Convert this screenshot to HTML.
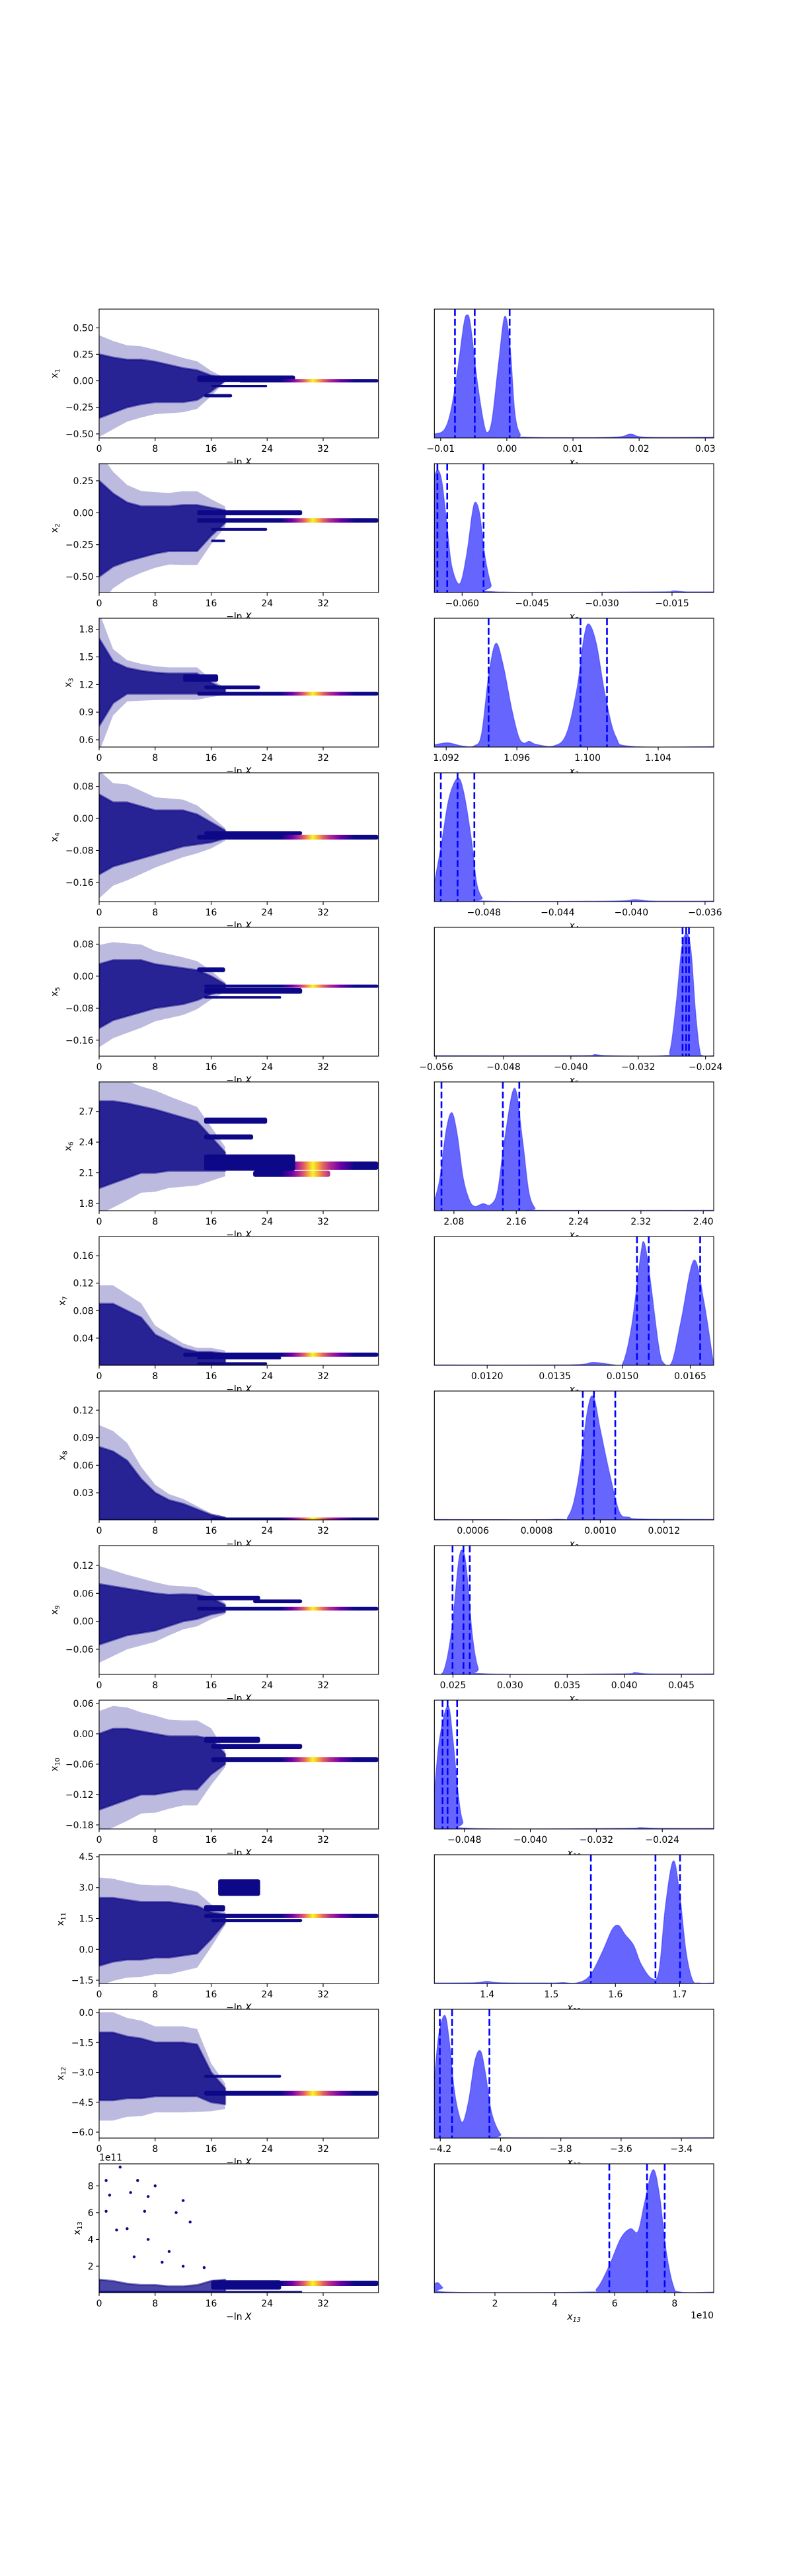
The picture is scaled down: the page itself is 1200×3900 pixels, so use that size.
<!DOCTYPE html>
<html><head><meta charset="utf-8"><title>Run plot</title>
<style>
html,body{margin:0;padding:0;background:#fff;}
svg{display:block;}
text{font-family:"DejaVu Sans","Liberation Sans",sans-serif;font-size:13.9px;fill:#000;}
</style></head>
<body>
<svg id="fig" width="1200" height="3900" viewBox="0 0 1200 3900" xmlns="http://www.w3.org/2000/svg">
<rect x="0" y="0" width="1200" height="3900" fill="#fff"/>
</svg>
<script>
// ---------- data ----------
const nRows = 13;
const xMaxLeft = 39.9;
const leftXTicks = [0, 8, 16, 24, 32];
const yMin = [-0.538,-0.624,0.521,-0.208,-0.200,1.729,0.0005,0.0005,-0.1139,-0.188,-1.66,-6.298,0.028];
const yMax = [0.676,0.384,1.92,0.114,0.122,2.989,0.188,0.1409,0.1625,0.0665,4.596,0.166,9.64];
const yTicks = [
 [-0.5,-0.25,0,0.25,0.5],[-0.5,-0.25,0,0.25],[0.6,0.9,1.2,1.5,1.8],[-0.16,-0.08,0,0.08],
 [-0.16,-0.08,0,0.08],[1.8,2.1,2.4,2.7],[0.04,0.08,0.12,0.16],[0.03,0.06,0.09,0.12],
 [-0.06,0,0.06,0.12],[-0.18,-0.12,-0.06,0,0.06],[-1.5,0,1.5,3,4.5],[-6,-4.5,-3,-1.5,0],[2,4,6,8]];
const yDec = [2,2,1,2,2,1,2,2,2,2,1,1,0];
const rMin = [-0.01095,-0.06595,1.09133,-0.05069,-0.05622,2.0549,0.01083,0.000479,0.02337,-0.05164,1.3177,-4.2196,-0.024];
const rMax = [0.03127,-0.00607,1.10714,-0.03553,-0.02303,2.4134,0.01702,0.001356,0.04783,-0.01777,1.7532,-3.2928,9.307];
const rTicks = [
 [-0.01,0,0.01,0.02,0.03],[-0.06,-0.045,-0.03,-0.015],[1.092,1.096,1.1,1.104],[-0.048,-0.044,-0.04,-0.036],
 [-0.056,-0.048,-0.04,-0.032,-0.024],[2.08,2.16,2.24,2.32,2.4],[0.012,0.0135,0.015,0.0165],[0.0006,0.0008,0.001,0.0012],
 [0.025,0.03,0.035,0.04,0.045],[-0.048,-0.04,-0.032,-0.024],[1.4,1.5,1.6,1.7],[-4.2,-4.0,-3.8,-3.6,-3.4],[2,4,6,8]];
const rDec = [2,3,3,3,3,2,4,4,3,3,1,1,0];
const kdeX = [
 [-0.01095,-0.0095,-0.0085,-0.0075,-0.0065,-0.006,-0.0055,-0.0045,-0.0035,-0.0029,-0.0022,-0.0012,-0.0003,0.0005,0.0012,0.002,0.003,0.016,0.0187,0.021,0.03127],
 [-0.06595,-0.0652,-0.0643,-0.0632,-0.0622,-0.0605,-0.059,-0.0578,-0.0571,-0.0562,-0.0552,-0.0538,-0.0527,-0.018,-0.0149,-0.012,-0.00607],
 [1.09133,1.0921,1.0929,1.0936,1.094,1.0944,1.0948,1.0952,1.0957,1.0961,1.0964,1.0967,1.0971,1.0981,1.0988,1.0994,1.0998,1.10008,1.1005,1.101,1.1016,1.1025,1.10714],
 [-0.05069,-0.0503,-0.0499,-0.04943,-0.0491,-0.0487,-0.0484,-0.0481,-0.0478,-0.041,-0.0398,-0.0388,-0.03553],
 [-0.05622,-0.039,-0.0372,-0.0355,-0.029,-0.0282,-0.0275,-0.0268,-0.02619,-0.0257,-0.0252,-0.0247,-0.0243,-0.02303],
 [2.0549,2.062,2.07,2.0772,2.084,2.092,2.1,2.1064,2.113,2.118,2.127,2.136,2.145,2.1578,2.168,2.176,2.184,2.191,2.4134],
 [0.01083,0.0138,0.01435,0.0148,0.015,0.0152,0.0154,0.01548,0.0156,0.0158,0.01591,0.0161,0.0163,0.01658,0.0168,0.017,0.01702],
 [0.000479,0.00085,0.0009,0.00093,0.00096,0.000979,0.001,0.00103,0.00106,0.00109,0.00113,0.001356],
 [0.02337,0.0242,0.0249,0.0255,0.02588,0.0262,0.0267,0.0272,0.0278,0.0395,0.0409,0.0422,0.04783],
 [-0.05164,-0.051,-0.05,-0.0494,-0.0488,-0.0482,-0.0472,-0.029,-0.0267,-0.0245,-0.01777],
 [1.3177,1.38,1.4,1.42,1.5,1.518,1.54,1.56,1.58,1.595,1.605,1.615,1.6284,1.64,1.6567,1.668,1.678,1.6901,1.7,1.71,1.72,1.73,1.7532],
 [-4.2196,-4.205,-4.1849,-4.17,-4.155,-4.14,-4.1245,-4.105,-4.085,-4.0664,-4.05,-4.03,-4.0,-3.97,-3.2928],
 [-0.024,0.1,0.25,0.45,5.0,5.4,5.8,6.2,6.52,6.78,7.0,7.28,7.5,7.7,7.95,8.2,9.307]];
const kdeY = [
 [0.03,0.06,0.2,0.5,0.88,0.954,0.88,0.45,0.12,0.043,0.15,0.6,0.944,0.7,0.2,0.03,0.005,0.005,0.03,0.005,0.005],
 [0.9,0.952,0.85,0.5,0.2,0.068,0.3,0.62,0.70,0.6,0.3,0.06,0.005,0.005,0.012,0.005,0.005],
 [0.017,0.032,0.008,0.01,0.1,0.55,0.803,0.65,0.3,0.08,0.03,0.044,0.02,0.009,0.1,0.45,0.85,0.954,0.8,0.4,0.08,0.005,0.003],
 [0.145,0.45,0.8,0.957,0.85,0.5,0.15,0.03,0.004,0.004,0.015,0.004,0.004],
 [0.004,0.004,0.012,0.004,0.004,0.05,0.4,0.85,0.949,0.8,0.35,0.05,0.004,0.004],
 [0.077,0.25,0.62,0.761,0.6,0.25,0.08,0.034,0.045,0.055,0.046,0.15,0.55,0.952,0.55,0.15,0.02,0.003,0.003],
 [0.003,0.003,0.022,0.004,0.01,0.3,0.85,0.951,0.7,0.15,0.017,0.03,0.35,0.814,0.5,0.05,0.02],
 [0.003,0.003,0.03,0.3,0.85,0.952,0.7,0.35,0.06,0.02,0.006,0.003],
 [0.005,0.03,0.35,0.88,0.957,0.8,0.3,0.05,0.005,0.004,0.014,0.004,0.004],
 [0.29,0.7,0.957,0.7,0.3,0.06,0.004,0.004,0.01,0.004,0.004],
 [0.004,0.006,0.016,0.006,0.004,0.007,0.005,0.06,0.25,0.42,0.45,0.38,0.296,0.15,0.039,0.1,0.6,0.951,0.7,0.25,0.03,0.004,0.004],
 [0.453,0.8,0.952,0.75,0.4,0.2,0.125,0.3,0.6,0.675,0.5,0.2,0.03,0.003,0.003],
 [0.07,0.077,0.04,0.004,0.004,0.03,0.2,0.42,0.496,0.475,0.7,0.954,0.75,0.35,0.06,0.004,0.004]];
const vlines = [
 [-0.00784,-0.00485,0.00043],[-0.0653,-0.0632,-0.0554],[1.0944,1.0996,1.1011],[-0.05034,-0.04943,-0.04852],
 [-0.02673,-0.0263,-0.02597],[2.064,2.1428,2.1639],[0.01532,0.01558,0.01672],[0.000945,0.00098,0.001047],
 [0.02496,0.02592,0.02647],[-0.05065,-0.05004,-0.04888],[1.5617,1.6624,1.7007],[-4.2015,-4.1608,-4.037],[5.82,7.08,7.67]];
const cloudX = [0,2,4,6,8,10,12,14,16,18];
const cloudUp = [
 [0.25,0.22,0.2,0.2,0.18,0.15,0.12,0.1,0.05,0.02],
 [0.25,0.15,0.08,0.05,0.05,0.05,0.06,0.06,0.04,0.02],
 [1.7,1.45,1.38,1.35,1.33,1.32,1.32,1.32,1.22,1.15],
 [0.06,0.04,0.04,0.03,0.02,0.02,0.02,0.01,-0.01,-0.03],
 [0.03,0.04,0.04,0.04,0.03,0.025,0.02,0.015,0.0,-0.02],
 [2.8,2.8,2.78,2.75,2.72,2.68,2.64,2.6,2.45,2.3],
 [0.09,0.09,0.08,0.07,0.045,0.035,0.025,0.02,0.02,0.017],
 [0.08,0.075,0.065,0.045,0.03,0.022,0.018,0.012,0.006,0.003],
 [0.08,0.075,0.07,0.065,0.06,0.057,0.058,0.057,0.05,0.035],
 [0.0,0.01,0.01,0.005,0.0,-0.005,-0.005,-0.005,-0.01,-0.04],
 [2.5,2.5,2.4,2.3,2.3,2.3,2.2,2.1,1.8,1.7],
 [-1.0,-1.0,-1.2,-1.3,-1.5,-1.5,-1.5,-1.6,-3.0,-3.8],
 [1.0,0.9,0.7,0.6,0.6,0.5,0.5,0.6,0.9,1.0]];
const cloudLo = [
 [-0.35,-0.3,-0.25,-0.22,-0.2,-0.2,-0.2,-0.18,-0.1,0.0],
 [-0.5,-0.42,-0.38,-0.35,-0.32,-0.3,-0.3,-0.3,-0.18,-0.08],
 [0.75,1.0,1.1,1.1,1.1,1.1,1.1,1.1,1.1,1.1],
 [-0.14,-0.12,-0.11,-0.1,-0.09,-0.08,-0.07,-0.065,-0.06,-0.05],
 [-0.13,-0.11,-0.1,-0.09,-0.08,-0.075,-0.07,-0.06,-0.045,-0.035],
 [1.95,2.0,2.05,2.1,2.1,2.12,2.12,2.12,2.12,2.12],
 [0.0005,0.0005,0.0005,0.0005,0.0005,0.0005,0.0005,0.0005,0.0005,0.0005],
 [0.0005,0.0005,0.0005,0.0005,0.0005,0.0005,0.0005,0.0005,0.0005,0.0005],
 [-0.05,-0.04,-0.03,-0.025,-0.02,-0.01,0.0,0.005,0.015,0.02],
 [-0.15,-0.14,-0.13,-0.12,-0.12,-0.115,-0.11,-0.11,-0.08,-0.06],
 [-0.8,-0.6,-0.5,-0.5,-0.4,-0.4,-0.3,-0.2,0.5,1.3],
 [-4.4,-4.4,-4.3,-4.3,-4.2,-4.2,-4.2,-4.2,-4.5,-4.6],
 [0.03,0.03,0.03,0.03,0.03,0.03,0.03,0.03,0.03,0.03]];
const streakRow = [0,0,0,0, 1,1,1,1, 2,2,2, 3,3, 4,4,4,4, 5,5,5,5,5, 6,6,6, 7, 8,8,8, 9,9,9, 10,10,10,10, 11,11, 12,12,12];
const streakX0  = [14,20,16,15, 14,14,16,16, 15,14,12, 15,14, 14,15,15,15, 15,15,15,22,15, 12,14,14, 16, 14,22,14, 15,16,16, 15,17,15,16, 15,15, 0,16,16];
const streakX1  = [28,39.9,24,19, 29,39.9,24,18, 23,39.9,17, 29,39.9, 18,39.9,29,26, 24,22,39.9,33,28, 39.9,26,24, 39.9, 23,29,39.9, 23,29,39.9, 18,23,39.9,29, 26,39.9, 29,26,39.9];
const streakY   = [0.02,0.0,-0.05,-0.14, 0.0,-0.06,-0.13,-0.22, 1.17,1.1,1.27, -0.037,-0.047, 0.016,-0.025,-0.037,-0.053, 2.61,2.45,2.17,2.09,2.2, 0.016,0.011,0.003, 0.0015, 0.05,0.043,0.027, -0.012,-0.025,-0.051, 2.0,3.0,1.62,1.4, -3.2,-4.05, 0.08,0.6,0.72];
const streakH   = [0.03,0.015,0.01,0.015, 0.02,0.018,0.012,0.01, 0.02,0.02,0.04, 0.005,0.006, 0.006,0.004,0.007,0.003, 0.03,0.025,0.04,0.03,0.08, 0.003,0.002,0.002, 0.0015, 0.005,0.004,0.004, 0.006,0.005,0.005, 0.15,0.4,0.1,0.08, 0.07,0.12, 0.05,0.35,0.2];
const streakHot = [0,1,0,0, 0,1,0,0, 0,1,0, 0,1, 0,1,0,0, 0,0,1,1,0, 1,0,0, 1, 0,0,1, 0,0,1, 0,0,1,0, 0,1, 0,0,1];
const outRow = [12,12,12,12,12,12,12,12,12,12,12,12,12,12,12,12,12,12,12,12];
const outX = [1,3,5.5,8,1.5,7,4.5,1,6.5,12,11,13,2.5,7,4,10,5,9,12,15];
const outY = [8.4,9.4,8.4,8.0,7.3,7.2,7.5,6.1,6.1,6.9,6.0,5.3,4.7,4.0,4.8,3.1,2.7,2.3,2.0,1.9];
const hotStopX = [26,27.5,28.5,29.3,29.9,30.5,31.3,32,33,34.5,36.5];
const hotStopC = ['#0d0887','#6a00a8','#b12a90','#e16462','#fca636','#f0f921','#fca636','#e16462','#b12a90','#6a00a8','#0d0887'];

// ---------- layout ----------
const NS = 'http://www.w3.org/2000/svg';
const svg = document.getElementById('fig');
const L0 = 150, LW = 422.7, R0 = 657.3, RW = 422.7, H = 195, TOP0 = 468, PITCH = 234;
const NAVY = '#0d0887';
function el(tag, attrs, parent) {
  const e = document.createElementNS(NS, tag);
  for (const k in attrs) e.setAttribute(k, attrs[k]);
  (parent || svg).appendChild(e);
  return e;
}
function fmt(v, d) { return v.toFixed(d).replace('-', '\u2212'); }
function topOf(i) { return TOP0 + PITCH * i; }
function lx(v) { return L0 + v / xMaxLeft * LW; }
function ly(i, v) { return topOf(i) + (yMax[i] - v) / (yMax[i] - yMin[i]) * H; }
function rx(i, v) { return R0 + (v - rMin[i]) / (rMax[i] - rMin[i]) * RW; }
function ry(i, v) { return topOf(i) + H - v * H; }
function crPath(pts) {
  let d = 'M' + pts[0][0].toFixed(2) + ',' + pts[0][1].toFixed(2);
  for (let k = 0; k < pts.length - 1; k++) {
    const p0 = pts[Math.max(0, k - 1)], p1 = pts[k], p2 = pts[k + 1], p3 = pts[Math.min(pts.length - 1, k + 2)];
    const c1x = p1[0] + (p2[0] - p0[0]) / 6, c1y = p1[1] + (p2[1] - p0[1]) / 6;
    const c2x = p2[0] - (p3[0] - p1[0]) / 6, c2y = p2[1] - (p3[1] - p1[1]) / 6;
    d += ' C' + c1x.toFixed(2) + ',' + c1y.toFixed(2) + ' ' + c2x.toFixed(2) + ',' + c2y.toFixed(2) + ' ' + p2[0].toFixed(2) + ',' + p2[1].toFixed(2);
  }
  return d;
}
const defs = el('defs', {});

for (let i = 0; i < nRows; i++) {
  const b = topOf(i) + H;
  const t1 = el('text', {x: L0 + LW / 2, y: b + 41, 'text-anchor': 'middle'});
  
  
  t1.textContent = '\u2212ln ';
  const ts = el('tspan', {'font-style': 'italic'}, t1); ts.textContent = 'X';
  const t2 = el('text', {x: R0 + RW / 2, y: b + 41, 'text-anchor': 'middle', 'font-style': 'italic'});
  
  
  t2.textContent = 'x';
  const sub = el('tspan', {'font-size': '9.7px', dy: '3'}, t2); sub.textContent = String(i + 1);
}

for (let i = 0; i < nRows; i++) {
  const top = topOf(i), bot = top + H;
  const gL = el('g', {});
  
  
  el('rect', {x: L0, y: top, width: LW, height: H, fill: '#fff'}, gL);
  const cpL = el('clipPath', {id: 'cl' + i}, defs);
  el('rect', {x: L0, y: top, width: LW, height: H}, cpL);
  const gradId = 'hot' + i;
  const lg = el('linearGradient', {id: gradId, gradientUnits: 'userSpaceOnUse', x1: lx(hotStopX[0]), y1: 0, x2: lx(hotStopX[hotStopX.length - 1]), y2: 0}, defs);
  const span = hotStopX[hotStopX.length - 1] - hotStopX[0];
  hotStopX.forEach((sxv, k) => el('stop', {offset: ((sxv - hotStopX[0]) / span).toFixed(3), 'stop-color': hotStopC[k]}, lg));
  const gc = el('g', {'clip-path': 'url(#cl' + i + ')'}, gL);
  // fringe (sparse scatter around cloud)
  if (i !== 12) {
    let fp = [];
    cloudX.forEach((cx, k) => { const u = cloudUp[i][k], l = cloudLo[i][k]; fp.push(lx(cx).toFixed(2) + ',' + ly(i, u + 0.3 * (u - l)).toFixed(2)); });
    for (let k = cloudX.length - 1; k >= 0; k--) { const u = cloudUp[i][k], l = cloudLo[i][k]; fp.push(lx(cloudX[k]).toFixed(2) + ',' + ly(i, l - 0.3 * (u - l)).toFixed(2)); }
    const fr = el('polygon', {points: fp.join(' '), fill: NAVY, 'fill-opacity': 0.28, stroke: 'none'}, gc);
    
    
  }
  let pts = [];
  cloudX.forEach((cx, k) => pts.push(lx(cx).toFixed(2) + ',' + ly(i, cloudUp[i][k]).toFixed(2)));
  for (let k = cloudX.length - 1; k >= 0; k--) pts.push(lx(cloudX[k]).toFixed(2) + ',' + ly(i, cloudLo[i][k]).toFixed(2));
  const cloud = el('polygon', {points: pts.join(' '), fill: NAVY, 'fill-opacity': i === 12 ? 0.75 : 0.85, stroke: NAVY, 'stroke-width': 3, 'stroke-linejoin': 'round', 'stroke-opacity': 0.5}, gc);
  
  
  for (let s = 0; s < streakRow.length; s++) {
    if (streakRow[s] !== i) continue;
    const y0 = ly(i, streakY[s] + streakH[s]), y1 = ly(i, streakY[s] - streakH[s]);
    const hh = Math.max(3, y1 - y0);
    const yc = (y0 + y1) / 2;
    const r = el('rect', {x: lx(streakX0[s]), y: yc - hh / 2, width: lx(streakX1[s]) - lx(streakX0[s]), height: hh, rx: Math.min(hh / 2, 3),
      fill: streakHot[s] ? 'url(#' + gradId + ')' : NAVY}, gc);
    
    
  }
  for (let o = 0; o < outRow.length; o++) {
    if (outRow[o] !== i) continue;
    const c = el('circle', {cx: lx(outX[o]), cy: ly(i, outY[o]), r: 2.2, fill: NAVY}, gc);
    
    
  }
  el('rect', {x: L0, y: top, width: LW, height: H, fill: 'none', stroke: '#000', 'stroke-width': 1.1}, gL);
  leftXTicks.forEach(t => {
    const X = lx(t);
    el('line', {x1: X, y1: bot, x2: X, y2: bot + 4.9, stroke: '#000', 'stroke-width': 1.1}, gL);
    const tx = el('text', {x: X, y: bot + 21, 'text-anchor': 'middle'}, gL);
    
    
    tx.textContent = String(t);
  });
  let maxW = 0;
  yTicks[i].forEach(t => {
    const Y = ly(i, t);
    el('line', {x1: L0 - 4.9, y1: Y, x2: L0, y2: Y, stroke: '#000', 'stroke-width': 1.1}, gL);
    const ty = el('text', {x: L0 - 8.4, y: Y + 5, 'text-anchor': 'end'}, gL);
    
    
    ty.textContent = fmt(t, yDec[i]);
    try { maxW = Math.max(maxW, ty.getComputedTextLength()); } catch (e) { maxW = Math.max(maxW, 30); }
  });
  const ylx = L0 - 8.4 - maxW - 12;
  const yl = el('text', {x: ylx, y: top + H / 2, 'text-anchor': 'middle', transform: 'rotate(-90 ' + ylx + ' ' + (top + H / 2) + ')', 'font-family': '"DejaVu Sans Mono","Liberation Mono",monospace'}, gL);
  
  
  yl.textContent = 'x';
  const ys = el('tspan', {'font-size': '9.7px', dy: '3'}, yl); ys.textContent = String(i + 1);
  if (i === 12) {
    const off = el('text', {x: L0, y: top - 5}, gL);
    
    
    off.textContent = '1e11';
  }

  const gR = el('g', {});
  
  
  el('rect', {x: R0, y: top, width: RW, height: H, fill: '#fff'}, gR);
  const cpR = el('clipPath', {id: 'cr' + i}, defs);
  el('rect', {x: R0, y: top, width: RW, height: H}, cpR);
  const gk = el('g', {'clip-path': 'url(#cr' + i + ')'}, gR);
  const kp = kdeX[i].map((xv, k) => [rx(i, xv), ry(i, kdeY[i][k])]);
  let d = crPath(kp);
  const fillD = d + ' L' + kp[kp.length - 1][0].toFixed(2) + ',' + bot + ' L' + kp[0][0].toFixed(2) + ',' + bot + ' Z';
  const area = el('path', {d: fillD, fill: '#0000ff', 'fill-opacity': 0.6, stroke: 'none'}, gk);
  
  
  el('path', {d: d, fill: 'none', stroke: '#3333ff', 'stroke-opacity': 0.6, 'stroke-width': 1.4}, gk);
  vlines[i].forEach(v => {
    const X = rx(i, v);
    const ln = el('line', {x1: X, y1: top, x2: X, y2: bot, stroke: '#0000ff', 'stroke-width': 2.6, 'stroke-dasharray': '10.3,4.4'}, gk);
    
    
  });
  el('rect', {x: R0, y: top, width: RW, height: H, fill: 'none', stroke: '#000', 'stroke-width': 1.1}, gR);
  rTicks[i].forEach(t => {
    const X = rx(i, t);
    el('line', {x1: X, y1: bot, x2: X, y2: bot + 4.9, stroke: '#000', 'stroke-width': 1.1}, gR);
    const tx = el('text', {x: X, y: bot + 21, 'text-anchor': 'middle'}, gR);
    
    
    tx.textContent = fmt(t, rDec[i]);
  });
  if (i === 12) {
    const off = el('text', {x: R0 + RW, y: bot + 39, 'text-anchor': 'end'}, gR);
    
    
    off.textContent = '1e10';
  }
}
</script>
</body></html>
